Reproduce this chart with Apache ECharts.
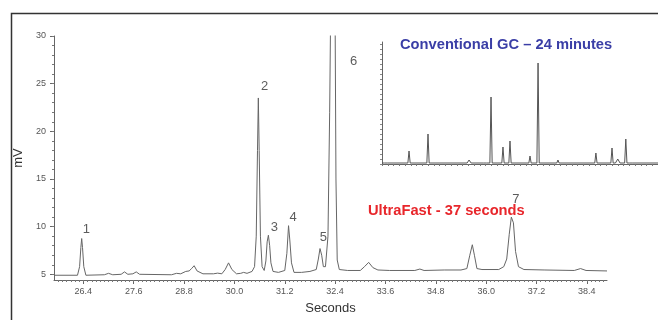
<!DOCTYPE html>
<html><head><meta charset="utf-8">
<script src="https://cdn.jsdelivr.net/npm/echarts@6/dist/echarts.min.js"></script>
<style>html,body{margin:0;padding:0;background:#fff}#c{width:658px;height:320px}</style>
</head><body><div id="c"></div>
<script>
// Tick labels
const xTickLabels = [26.4, 27.6, 28.8, 30.0, 31.2, 32.4, 33.6, 34.8, 36.0, 37.2, 38.4];
const yTickLabels = [5, 10, 15, 20, 25, 30];

// UltraFast chromatogram: [seconds, mV]
const fastTrace = [
  [25.70,4.9],[26.26,4.9],[26.31,5.8],[26.34,7.8],[26.36,8.75],[26.38,7.8],[26.41,5.8],[26.46,4.9],
  [26.90,4.95],[27.00,5.1],[27.10,4.95],[27.30,5.0],[27.38,5.25],[27.46,5.0],[27.58,5.05],[27.66,5.25],[27.74,5.0],
  [28.50,4.95],[28.62,5.1],[28.72,5.05],[28.84,5.3],[28.92,5.35],[28.98,5.6],[29.04,5.9],[29.11,5.35],[29.25,5.05],
  [29.50,5.05],[29.60,5.12],[29.70,5.05],[29.78,5.5],[29.86,6.2],[29.94,5.5],[30.05,5.05],[30.15,5.1],[30.22,5.2],[30.30,5.1],[30.42,5.3],
  [30.48,5.8],[30.52,9.0],[30.55,18.0],[30.57,23.5],[30.59,18.0],[30.62,9.0],[30.66,5.8],[30.71,5.4],
  [30.75,6.4],[30.78,8.4],[30.81,9.1],[30.84,8.0],[30.87,6.2],[30.92,5.3],[31.05,5.2],
  [31.20,5.4],[31.25,7.2],[31.29,10.1],[31.32,8.6],[31.36,6.2],[31.42,5.2],[31.60,5.2],[31.80,5.3],
  [31.95,5.5],[32.00,6.6],[32.04,7.7],[32.08,7.0],[32.12,5.8],[32.17,5.8],
  [32.23,9.0],[32.27,22.0],[32.31,40.0],[32.35,55.0],[32.39,40.0],[32.42,15.0],[32.45,6.5],[32.50,5.5],[32.70,5.4],
  [33.00,5.4],[33.10,5.8],[33.20,6.25],[33.30,5.7],[33.42,5.45],[33.70,5.4],
  [34.30,5.4],[34.42,5.55],[34.52,5.4],[35.00,5.45],[35.40,5.45],
  [35.54,5.6],[35.61,7.0],[35.67,8.1],[35.72,7.0],[35.78,5.6],[35.90,5.5],
  [36.30,5.5],[36.42,5.8],[36.49,6.6],[36.55,9.2],[36.60,11.0],[36.65,10.4],[36.70,7.4],[36.77,5.8],[36.90,5.5],
  [37.40,5.45],[38.10,5.4],[38.25,5.6],[38.38,5.4],[38.88,5.35]
];

// Peak numbers and where they sit
const peakNumbers = ['1','2','3','4','5','6','7'];
const peakLabelPos = [[26.47,9.7],[30.72,24.7],[30.95,9.9],[31.40,11.0],[32.12,8.9],[32.84,27.3],[36.71,12.9]];

// Conventional GC inset: [minutes, relative response]
const convTrace = [
  [0,1],[0.2,1],[0.35,3],[0.5,1],[2.25,1],[2.35,13],[2.45,1],[3.9,1],[4.0,30],[4.1,1],
  [7.4,1],[7.57,4],[7.75,1],[8.85,1],[8.96,3],[9.07,1],[9.38,1],[9.48,67],[9.58,1],
  [10.42,1],[10.52,17],[10.62,1],[11.03,1],[11.13,23],[11.23,1],[12.77,1],[12.87,8],[12.97,1],
  [13.47,1],[13.57,101],[13.67,1],[15.2,1],[15.3,4],[15.4,1],[18.5,1],[18.6,11],[18.7,1],
  [19.9,1],[20.0,16],[20.1,1],[20.3,1],[20.5,5],[20.7,1],[21.1,1],[21.2,25],[21.3,1],
  [21.55,1],[21.65,3],[21.75,1],[24,1]
];

const FONT = "'Liberation Sans', Arial, sans-serif";
const range = (a, b, s) => { const r = []; for (let v = a; v <= b + 1e-9; v += s) r.push(+v.toFixed(3)); return r; };

const chart = echarts.init(document.getElementById('c'), null, {renderer: 'canvas'});
chart.setOption({
  animation: false,
  backgroundColor: '#fff',
  grid: [
    {left: 54, top: 36, right: 51, bottom: 38},
    {left: 382, top: 42, right: 0, bottom: 156}
  ],
  xAxis: [
    {gridIndex: 0, type: 'value', min: 25.7, max: 38.88, position: 'bottom',
     name: 'Seconds', nameLocation: 'middle', nameGap: 22,
     nameTextStyle: {fontFamily: FONT, fontSize: 13, color: '#333'},
     axisLine: {lineStyle: {color: '#666', width: 1}},
     axisTick: {customValues: xTickLabels, length: 4, lineStyle: {color: '#666'}},
     axisLabel: {customValues: xTickLabels, formatter: v => v.toFixed(1), fontFamily: FONT, fontSize: 9, color: '#555', margin: 7},
     splitLine: {show: false}},
    {gridIndex: 0, type: 'value', min: 25.7, max: 38.88, position: 'bottom',
     axisLine: {show: false},
     axisTick: {customValues: range(25.8, 38.8, 0.1), length: 2, lineStyle: {color: '#777'}},
     axisLabel: {show: false}, splitLine: {show: false}},
    {gridIndex: 1, type: 'value', min: 0, max: 24, position: 'bottom',
     axisLine: {lineStyle: {color: '#666', width: 1}},
     axisTick: {customValues: range(0, 24, 0.5), length: 2, lineStyle: {color: '#777'}},
     axisLabel: {show: false}, splitLine: {show: false}}
  ],
  yAxis: [
    {gridIndex: 0, type: 'value', min: 4.4, max: 30, position: 'left',
     name: 'mV', nameLocation: 'middle', nameGap: 28, nameRotate: 90,
     nameTextStyle: {fontFamily: FONT, fontSize: 13, color: '#333'},
     axisLine: {lineStyle: {color: '#666', width: 1}},
     axisTick: {customValues: yTickLabels, length: 4, lineStyle: {color: '#666'}},
     axisLabel: {customValues: yTickLabels, fontFamily: FONT, fontSize: 9, color: '#555', margin: 8},
     splitLine: {show: false}},
    {gridIndex: 0, type: 'value', min: 4.4, max: 30, position: 'left',
     axisLine: {show: false},
     axisTick: {customValues: range(5, 30, 1), length: 2, lineStyle: {color: '#777'}},
     axisLabel: {show: false}, splitLine: {show: false}},
    {gridIndex: 1, type: 'value', min: 0, max: 122, position: 'left',
     axisLine: {lineStyle: {color: '#666', width: 1}},
     axisTick: {customValues: range(0, 120, 5), length: 2, lineStyle: {color: '#888'}},
     axisLabel: {show: false}, splitLine: {show: false}}
  ],
  series: [
    {type: 'line', xAxisIndex: 0, yAxisIndex: 0, data: fastTrace, symbol: 'none', clip: true,
     lineStyle: {color: '#666', width: 1}},
    {type: 'scatter', xAxisIndex: 0, yAxisIndex: 0, symbolSize: 0,
     data: peakLabelPos.map((p, i) => ({value: p, name: peakNumbers[i]})),
     label: {show: true, position: 'inside', formatter: '{b}', fontFamily: FONT, fontSize: 13, color: '#333'}},
    {type: 'line', xAxisIndex: 2, yAxisIndex: 2, data: convTrace, symbol: 'none', clip: true,
     lineStyle: {color: '#555', width: 1}}
  ],
  graphic: [
    {type: 'polyline', shape: {points: [[11.5, 320], [11.5, 13.5], [658, 13.5]]},
     style: {stroke: '#333', lineWidth: 1.5, fill: null}},
    {type: 'text', left: 368, top: 203,
     style: {text: 'UltraFast - 37 seconds', fill: '#e8262b', font: "bold 14.7px 'Liberation Sans', Arial, sans-serif"}},
    {type: 'text', left: 400, top: 37,
     style: {text: 'Conventional GC \u2013 24 minutes', fill: '#3a3ea6', font: "bold 14.7px 'Liberation Sans', Arial, sans-serif"}}
  ]
});
</script></body></html>
